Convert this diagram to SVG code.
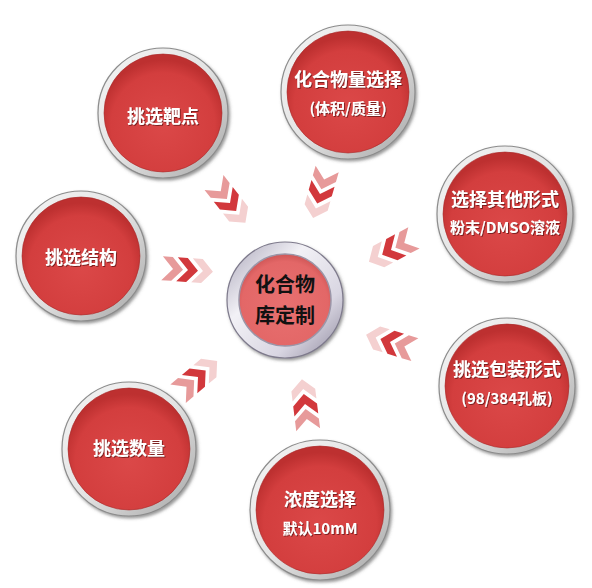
<svg xmlns="http://www.w3.org/2000/svg" width="592" height="588" viewBox="0 0 592 588">
  <defs>
    <linearGradient id="silver" x1="0" y1="0" x2="1" y2="1">
      <stop offset="0" stop-color="#f4f4f4"/>
      <stop offset="0.5" stop-color="#e4e4e4"/>
      <stop offset="1" stop-color="#a4a4a4"/>
    </linearGradient>
    <radialGradient id="red" cx="0.5" cy="0.6" r="0.55">
      <stop offset="0" stop-color="#db4848"/>
      <stop offset="0.8" stop-color="#d33e3e"/>
      <stop offset="1" stop-color="#bd3030"/>
    </radialGradient>
    <linearGradient id="csilver" x1="0" y1="0" x2="1" y2="1">
      <stop offset="0" stop-color="#a9a5b8"/>
      <stop offset="0.35" stop-color="#f2f1f6"/>
      <stop offset="0.7" stop-color="#d9d6e2"/>
      <stop offset="1" stop-color="#8f8a9e"/>
    </linearGradient>
    <radialGradient id="pink" cx="0.5" cy="0.55" r="0.55">
      <stop offset="0" stop-color="#e87070"/>
      <stop offset="0.85" stop-color="#e36767"/>
      <stop offset="1" stop-color="#cf5656"/>
    </radialGradient>
    <filter id="shadow" x="-20%" y="-20%" width="140%" height="140%">
      <feDropShadow dx="1.5" dy="2" stdDeviation="1.5" flood-color="#555" flood-opacity="0.6"/>
    </filter>
    <filter id="tshadow" x="-10%" y="-30%" width="120%" height="160%">
      <feDropShadow dx="1" dy="1" stdDeviation="0.6" flood-color="#5a1010" flood-opacity="0.7"/>
    </filter>
    <polygon id="chev" points="-11,-12 -1,-12 10,0 -1,12 -11,12 0,0"/>
    <style>
      .ring { fill: url(#silver); stroke: #8c8c8c; stroke-width: 1.2; }
      .disk { fill: url(#red); stroke: #a82a2a; stroke-width: 0.6; }
      .t { font-family: "Noto Sans CJK SC", "Noto Sans", sans-serif; font-weight: 700; fill: #ffffff; text-anchor: middle; dominant-baseline: central; filter: url(#tshadow); }
      .t1 { font-size: 18px; }
      .t2 { font-size: 15px; }
      .ct { font-family: "Noto Sans CJK SC", "Noto Sans", sans-serif; font-weight: 700; fill: #111; text-anchor: middle; dominant-baseline: central; font-size: 20px; }
      .c1 { fill: #e79a9a; }
      .c2 { fill: #d2383c; }
      .c3 { fill: #f4d0d0; }
    </style>
  </defs>
  <rect width="592" height="588" fill="#ffffff"/>

  <g id="connectors">
    <g transform="translate(230,203) rotate(52)"><use href="#chev" class="c1" x="-15"/><use href="#chev" class="c2"/><use href="#chev" class="c3" x="15"/></g>
    <g transform="translate(320,194) rotate(106)"><use href="#chev" class="c1" x="-15"/><use href="#chev" class="c2"/><use href="#chev" class="c3" x="15"/></g>
    <g transform="translate(391,250) rotate(152)"><use href="#chev" class="c1" x="-15"/><use href="#chev" class="c2"/><use href="#chev" class="c3" x="15"/></g>
    <g transform="translate(390,342) rotate(197)"><use href="#chev" class="c1" x="-15"/><use href="#chev" class="c2"/><use href="#chev" class="c3" x="15"/></g>
    <g transform="translate(198,377) rotate(-40)"><use href="#chev" class="c1" x="-15"/><use href="#chev" class="c2"/><use href="#chev" class="c3" x="15"/></g>
    <g transform="translate(305,404) rotate(-97)"><use href="#chev" class="c1" x="-15"/><use href="#chev" class="c2"/><use href="#chev" class="c3" x="15"/></g>
    <g transform="translate(188,270) rotate(4)"><use href="#chev" class="c1" x="-15"/><use href="#chev" class="c2"/><use href="#chev" class="c3" x="15"/></g>
  </g>

  <g id="center" transform="translate(285,300)">
    <circle r="58" fill="url(#csilver)" stroke="#7e7a8c" stroke-width="1.2" filter="url(#shadow)"/>
    <circle r="46" fill="url(#pink)" stroke="#9b96a8" stroke-width="1.5"/>
    <text class="ct" y="-17">化合物</text>
    <text class="ct" y="14">库定制</text>
  </g>

  <g id="target" transform="translate(163,113)">
    <circle class="ring" r="65" filter="url(#shadow)"/>
    <circle class="disk" r="59"/>
    <text class="t t1" y="2">挑选靶点</text>
  </g>

  <g id="amount" transform="translate(348,92)">
    <circle class="ring" r="67" filter="url(#shadow)"/>
    <circle class="disk" r="61"/>
    <text class="t t1" y="-14">化合物量选择</text>
    <text class="t t2" y="15">(体积/质量)</text>
  </g>

  <g id="form" transform="translate(505,214)">
    <circle class="ring" r="68" filter="url(#shadow)"/>
    <circle class="disk" r="62"/>
    <text class="t t1" y="-16">选择其他形式</text>
    <text class="t t2" y="12">粉末/DMSO溶液</text>
  </g>

  <g id="structure" transform="translate(81,256)">
    <circle class="ring" r="65" filter="url(#shadow)"/>
    <circle class="disk" r="59"/>
    <text class="t t1" y="0">挑选结构</text>
  </g>

  <g id="package" transform="translate(507,386)">
    <circle class="ring" r="68" filter="url(#shadow)"/>
    <circle class="disk" r="62"/>
    <text class="t t1" y="-18">挑选包装形式</text>
    <text class="t t2" y="11">(98/384孔板)</text>
  </g>

  <g id="quantity" transform="translate(129,449)">
    <circle class="ring" r="67" filter="url(#shadow)"/>
    <circle class="disk" r="61"/>
    <text class="t t1" y="-2">挑选数量</text>
  </g>

  <g id="concentration" transform="translate(320,510)">
    <circle class="ring" r="70" filter="url(#shadow)"/>
    <circle class="disk" r="64"/>
    <text class="t t1" y="-12">浓度选择</text>
    <text class="t t2" y="17">默认10mM</text>
  </g>
</svg>
